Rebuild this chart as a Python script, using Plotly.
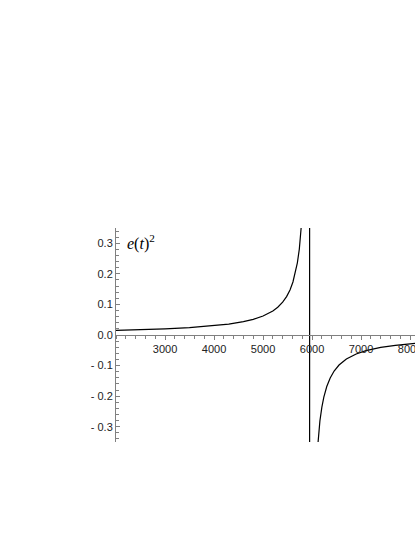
import plotly.graph_objects as go

# values
t_left = [2000, 2500, 3000, 3500, 4000, 4300, 4600, 4800, 5000, 5100, 5200,
          5300, 5400, 5480, 5550, 5610, 5660, 5700, 5740, 5770, 5800]
e_left = [0.0149, 0.0171, 0.0200, 0.0241, 0.0303, 0.0358, 0.0437, 0.0513,
          0.0621, 0.0694, 0.0787, 0.0908, 0.1073, 0.1255, 0.1475, 0.1735,
          0.2034, 0.236, 0.281, 0.328, 0.393]

t_right = [6100, 6130, 6160, 6200, 6240, 6300, 6370, 6450, 6550, 6700, 6900,
           7100, 7400, 7700, 8000, 8200]
e_right = [-0.393, -0.328, -0.281, -0.236, -0.2034, -0.1686, -0.1405, -0.118,
           -0.0983, -0.0787, -0.0621, -0.0513, -0.0407, -0.0337, -0.0288,
           -0.0262]

t_pole = 5950
y_lim = [-0.35, 0.35]
x_lim = [2000, 8100]

x_ticks = [3000, 4000, 5000, 6000, 7000, 8000]
y_ticks = [-0.3, -0.2, -0.1, 0.0, 0.1, 0.2, 0.3]
y_labels = ['- 0.3', '- 0.2', '- 0.1', '0.0', '0.1', '0.2', '0.3']

line_style = {'color': 'black', 'width': 1.2}
axis_col = '#808080'
tick_font = {'family': 'Liberation Sans, Arial, sans-serif', 'size': 11, 'color': '#222'}

fig = go.Figure()
fig.add_trace(go.Scatter(x=t_left, y=e_left, mode='lines', line=line_style,
                         showlegend=False, hoverinfo='skip'))
fig.add_trace(go.Scatter(x=t_right, y=e_right, mode='lines', line=line_style,
                         showlegend=False, hoverinfo='skip'))
fig.add_trace(go.Scatter(x=[t_pole, t_pole], y=y_lim, mode='lines', line=line_style,
                         showlegend=False, hoverinfo='skip'))

fig.update_layout(
    width=415, height=537,
    margin={'l': 116, 'r': 0, 't': 228, 'b': 95},
    paper_bgcolor='white', plot_bgcolor='white',
    xaxis={'range': x_lim, 'anchor': 'free', 'position': 0.5,
           'showgrid': False, 'zeroline': False,
           'showline': True, 'linecolor': axis_col, 'linewidth': 1,
           'tickvals': x_ticks, 'ticks': 'outside', 'ticklen': 4,
           'tickcolor': axis_col, 'tickwidth': 1, 'tickfont': tick_font,
           'ticklabeloverflow': 'allow',
           'minor': {'dtick': 200, 'tick0': 2000, 'ticks': 'outside',
                     'ticklen': 2.5, 'tickcolor': axis_col, 'showgrid': False},
           'automargin': False},
    yaxis={'range': y_lim, 'showgrid': False, 'zeroline': False,
           'showline': True, 'linecolor': axis_col, 'linewidth': 1,
           'tickvals': y_ticks, 'ticktext': y_labels,
           'ticks': 'inside', 'ticklen': 4, 'tickcolor': axis_col,
           'tickwidth': 1, 'tickfont': tick_font,
           'minor': {'dtick': 0.02, 'tick0': 0, 'ticks': 'inside',
                     'ticklen': 2.5, 'tickcolor': axis_col, 'showgrid': False},
           'automargin': False},
    annotations=[{'text': '<i>e</i>(<i>t</i>)<sup>2</sup>',
                  'xref': 'paper', 'yref': 'paper', 'x': 0.03, 'y': 0.93,
                  'xanchor': 'left', 'yanchor': 'middle', 'showarrow': False,
                  'font': {'family': 'Liberation Serif, Times New Roman, serif',
                           'size': 16, 'color': 'black'}}],
)

# drop the default 8px page margin so the figure fills the window
fig.write_html("out.html", config={'displayModeBar': False},
               post_script="document.body.style.margin='0';document.body.style.overflow='hidden';")
